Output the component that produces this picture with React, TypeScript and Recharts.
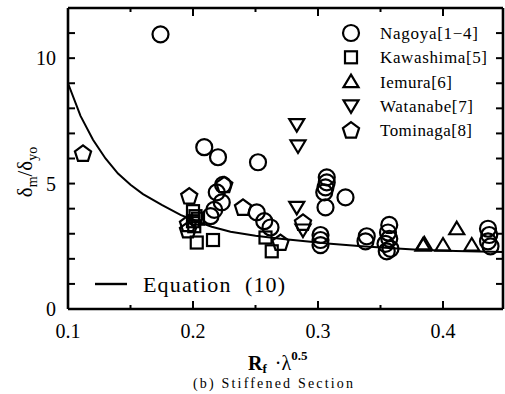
import React from 'react';
import { ComposedChart, Scatter, XAxis, YAxis } from 'recharts';

// Test series: ductility ratio δm/δyo against Rf·λ^0.5
const nagoya = [
  { x: 0.174, y: 10.95 }, { x: 0.209, y: 6.45 }, { x: 0.22, y: 6.05 }, { x: 0.252, y: 5.85 },
  { x: 0.224, y: 4.95 }, { x: 0.219, y: 4.65 }, { x: 0.223, y: 4.25 }, { x: 0.217, y: 3.95 },
  { x: 0.214, y: 3.7 }, { x: 0.251, y: 3.85 }, { x: 0.257, y: 3.5 }, { x: 0.262, y: 3.25 },
  { x: 0.307, y: 5.25 }, { x: 0.307, y: 5.05 }, { x: 0.306, y: 4.85 }, { x: 0.305, y: 4.65 },
  { x: 0.306, y: 4.05 }, { x: 0.322, y: 4.45 },
  { x: 0.302, y: 2.95 }, { x: 0.302, y: 2.75 }, { x: 0.302, y: 2.55 },
  { x: 0.339, y: 2.9 }, { x: 0.338, y: 2.7 },
  { x: 0.357, y: 3.35 }, { x: 0.356, y: 3.05 }, { x: 0.357, y: 2.8 }, { x: 0.354, y: 2.6 },
  { x: 0.358, y: 2.4 }, { x: 0.355, y: 2.3 },
  { x: 0.436, y: 3.2 }, { x: 0.437, y: 2.95 }, { x: 0.436, y: 2.7 }, { x: 0.438, y: 2.5 },
];

const kawashima = [
  { x: 0.2, y: 3.9 }, { x: 0.202, y: 3.7 }, { x: 0.2, y: 3.5 }, { x: 0.204, y: 3.6 },
  { x: 0.201, y: 3.3 }, { x: 0.203, y: 2.65 }, { x: 0.216, y: 2.75 },
  { x: 0.258, y: 2.85 }, { x: 0.263, y: 2.3 },
];

const iemura = [
  { x: 0.384, y: 2.55 }, { x: 0.385, y: 2.6 }, { x: 0.4, y: 2.55 }, { x: 0.411, y: 3.2 },
  { x: 0.423, y: 2.55 },
];

const watanabe = [
  { x: 0.283, y: 7.35 }, { x: 0.284, y: 6.5 }, { x: 0.283, y: 4.05 }, { x: 0.288, y: 3.15 },
];

const tominaga = [
  { x: 0.112, y: 6.2 }, { x: 0.197, y: 4.5 }, { x: 0.196, y: 3.15 }, { x: 0.196, y: 3.4 },
  { x: 0.225, y: 4.95 }, { x: 0.24, y: 4.05 }, { x: 0.27, y: 2.65 }, { x: 0.288, y: 3.45 },
];

// Equation (10) curve
const equation10 = [
  { x: 0.1, y: 9.0 }, { x: 0.11, y: 7.7 }, { x: 0.12, y: 6.75 }, { x: 0.13, y: 6.0 },
  { x: 0.14, y: 5.4 }, { x: 0.15, y: 4.95 }, { x: 0.16, y: 4.58 }, { x: 0.175, y: 4.15 },
  { x: 0.19, y: 3.75 }, { x: 0.2, y: 3.55 }, { x: 0.215, y: 3.28 }, { x: 0.23, y: 3.08 },
  { x: 0.25, y: 2.92 }, { x: 0.27, y: 2.8 }, { x: 0.29, y: 2.7 }, { x: 0.31, y: 2.6 },
  { x: 0.335, y: 2.5 }, { x: 0.36, y: 2.42 }, { x: 0.38, y: 2.36 }, { x: 0.41, y: 2.31 },
  { x: 0.448, y: 2.27 },
];

const xDomain = [0.1, 0.448];
const yDomain = [0, 12];
const xTicks = [0.1, 0.15, 0.2, 0.25, 0.3, 0.35, 0.4];
const yTicks = [0, 1, 2, 3, 4, 5, 6, 7, 8, 9, 10, 11, 12];
const yLabeled = [0, 5, 10];

const legendItems = [
  { kind: 'circle', label: 'Nagoya[1\u22124]', width: 98 },
  { kind: 'square', label: 'Kawashima[5]', width: 107 },
  { kind: 'up', label: 'Iemura[6]', width: 72 },
  { kind: 'down', label: 'Watanabe[7]', width: 93 },
  { kind: 'pentagon', label: 'Tominaga[8]', width: 92 },
];

const FONT = '"Liberation Serif", "DejaVu Serif", serif';
const SW = 2.2;

type Kind = 'circle' | 'square' | 'up' | 'down' | 'pentagon';

function Marker({ kind, cx, cy }: { kind: Kind; cx: number; cy: number }) {
  const common = { fill: 'none', stroke: '#000', strokeWidth: SW };
  if (cx == null || cy == null) return <g />;
  switch (kind) {
    case 'circle':
      return <circle cx={cx} cy={cy} r={8} {...common} />;
    case 'square':
      return <rect x={cx - 6} y={cy - 6} width={12} height={12} {...common} />;
    case 'up':
      return (
        <polygon
          points={`${cx},${cy - 7} ${cx + 7.5},${cy + 5.5} ${cx - 7.5},${cy + 5.5}`}
          {...common}
        />
      );
    case 'down':
      return (
        <polygon
          points={`${cx},${cy + 7} ${cx + 7.5},${cy - 5.5} ${cx - 7.5},${cy - 5.5}`}
          {...common}
        />
      );
    default: {
      const r = 8.5;
      const pts = [0, 1, 2, 3, 4]
        .map((k) => {
          const a = (-90 + 72 * k) * (Math.PI / 180);
          return `${cx + r * Math.cos(a)},${cy + 0.5 + r * Math.sin(a)}`;
        })
        .join(' ');
      return <polygon points={pts} {...common} />;
    }
  }
}

const isMajorX = (v: number) => Math.abs(v * 10 - Math.round(v * 10)) < 1e-6;

const BottomTick = (p: any) => {
  const { x, y, payload } = p;
  const major = isMajorX(payload.value);
  return (
    <g>
      <line x1={x} x2={x} y1={y} y2={y - (major ? 8 : 4)} stroke="#000" strokeWidth={2} />
      {major && (
        <text x={x} y={y + 29} textAnchor="middle" fontFamily={FONT} fontSize={20} fill="#000">
          {payload.value.toFixed(1)}
        </text>
      )}
    </g>
  );
};

const TopTick = (p: any) => {
  const { x, y, payload } = p;
  const major = isMajorX(payload.value);
  return <line x1={x} x2={x} y1={y} y2={y + (major ? 8 : 4)} stroke="#000" strokeWidth={2} />;
};

const LeftTick = (p: any) => {
  const { x, y, payload } = p;
  const labeled = yLabeled.includes(payload.value);
  return (
    <g>
      <line x1={x} x2={x + 7} y1={y} y2={y} stroke="#000" strokeWidth={2} />
      {labeled && (
        <text x={x - 12} y={y + 7} textAnchor="end" fontFamily={FONT} fontSize={20} fill="#000">
          {payload.value}
        </text>
      )}
    </g>
  );
};

const RightTick = (p: any) => {
  const { x, y } = p;
  return <line x1={x} x2={x - 7} y1={y} y2={y} stroke="#000" strokeWidth={2} />;
};

const axisLine = { stroke: '#000', strokeWidth: 2.6 };

export default function App() {
  return (
    <div style={{ position: 'absolute', left: 0, top: 0, width: 505, height: 394, background: '#fff' }}>
      <ComposedChart width={505} height={394} margin={{ top: 7, right: 1, bottom: 84, left: 67 }}>
        <XAxis
          type="number"
          dataKey="x"
          domain={xDomain}
          allowDataOverflow
          ticks={xTicks}
          interval={0}
          height={1}
          tickSize={0}
          tickMargin={0}
          tickLine={false}
          axisLine={axisLine}
          tick={(p: any) => <BottomTick {...p} />}
        />
        <XAxis
          xAxisId="top"
          orientation="top"
          type="number"
          dataKey="x"
          domain={xDomain}
          allowDataOverflow
          ticks={xTicks}
          interval={0}
          height={1}
          tickSize={0}
          tickMargin={0}
          tickLine={false}
          axisLine={axisLine}
          tick={(p: any) => <TopTick {...p} />}
        />
        <YAxis
          type="number"
          dataKey="y"
          domain={yDomain}
          allowDataOverflow
          ticks={yTicks}
          interval={0}
          width={1}
          tickSize={0}
          tickMargin={0}
          tickLine={false}
          axisLine={axisLine}
          tick={(p: any) => <LeftTick {...p} />}
        />
        <YAxis
          yAxisId="right"
          orientation="right"
          type="number"
          dataKey="y"
          domain={yDomain}
          allowDataOverflow
          ticks={yTicks}
          interval={0}
          width={1}
          tickSize={0}
          tickMargin={0}
          tickLine={false}
          axisLine={axisLine}
          tick={(p: any) => <RightTick {...p} />}
        />
        <Scatter
          name="Equation (10)"
          data={equation10}
          line={{ stroke: '#000', strokeWidth: 2 }}
          lineType="joint"
          shape={() => <g />}
          isAnimationActive={false}
        />
        <Scatter name="Nagoya" data={nagoya} shape={(p: any) => <Marker kind="circle" cx={p.cx} cy={p.cy} />} isAnimationActive={false} />
        <Scatter name="Kawashima" data={kawashima} shape={(p: any) => <Marker kind="square" cx={p.cx} cy={p.cy} />} isAnimationActive={false} />
        <Scatter name="Iemura" data={iemura} shape={(p: any) => <Marker kind="up" cx={p.cx} cy={p.cy} />} isAnimationActive={false} />
        <Scatter name="Watanabe" data={watanabe} shape={(p: any) => <Marker kind="down" cx={p.cx} cy={p.cy} />} isAnimationActive={false} />
        <Scatter name="Tominaga" data={tominaga} shape={(p: any) => <Marker kind="pentagon" cx={p.cx} cy={p.cy} />} isAnimationActive={false} />
      </ComposedChart>

      {/* titles and legends */}
      <svg
        width={505}
        height={394}
        style={{ position: 'absolute', left: 0, top: 0, pointerEvents: 'none' }}
        fontFamily={FONT}
      >
        {legendItems.map((it, i) => {
          const cy = 33 + i * 24.3;
          return (
            <g key={it.label}>
              <Marker kind={it.kind as Kind} cx={351} cy={cy} />
              <text x={380} y={cy + 6} fontSize={17} textLength={it.width} lengthAdjust="spacing" fill="#000">
                {it.label}
              </text>
            </g>
          );
        })}

        <line x1={95} x2={127} y1={284} y2={284} stroke="#000" strokeWidth={2.4} />
        <text x={143} y={292} fontSize={22} textLength={142} lengthAdjust="spacing" fill="#000" style={{ whiteSpace: 'pre' }}>
          {'Equation  (10)'}
        </text>

        <text transform="translate(32,172) rotate(-90)" textAnchor="middle" fontSize={21} fill="#000">
          <tspan>δ</tspan>
          <tspan fontSize={14} dy={5}>m</tspan>
          <tspan dy={-5}>/δ</tspan>
          <tspan fontSize={14} dy={5}>yo</tspan>
        </text>

        <text x={248} y={370} fontSize={20} fontWeight="bold" fill="#000">
          <tspan>R</tspan>
          <tspan fontSize={13} dy={3}>f</tspan>
          <tspan dx={8} dy={-3} fontWeight="normal">·λ</tspan>
          <tspan fontSize={13} dy={-10}>0.5</tspan>
        </text>

        <text x={193} y={388} fontSize={14} textLength={160} lengthAdjust="spacing" fill="#000">
          (b) Stiffened Section
        </text>
      </svg>
    </div>
  );
}
